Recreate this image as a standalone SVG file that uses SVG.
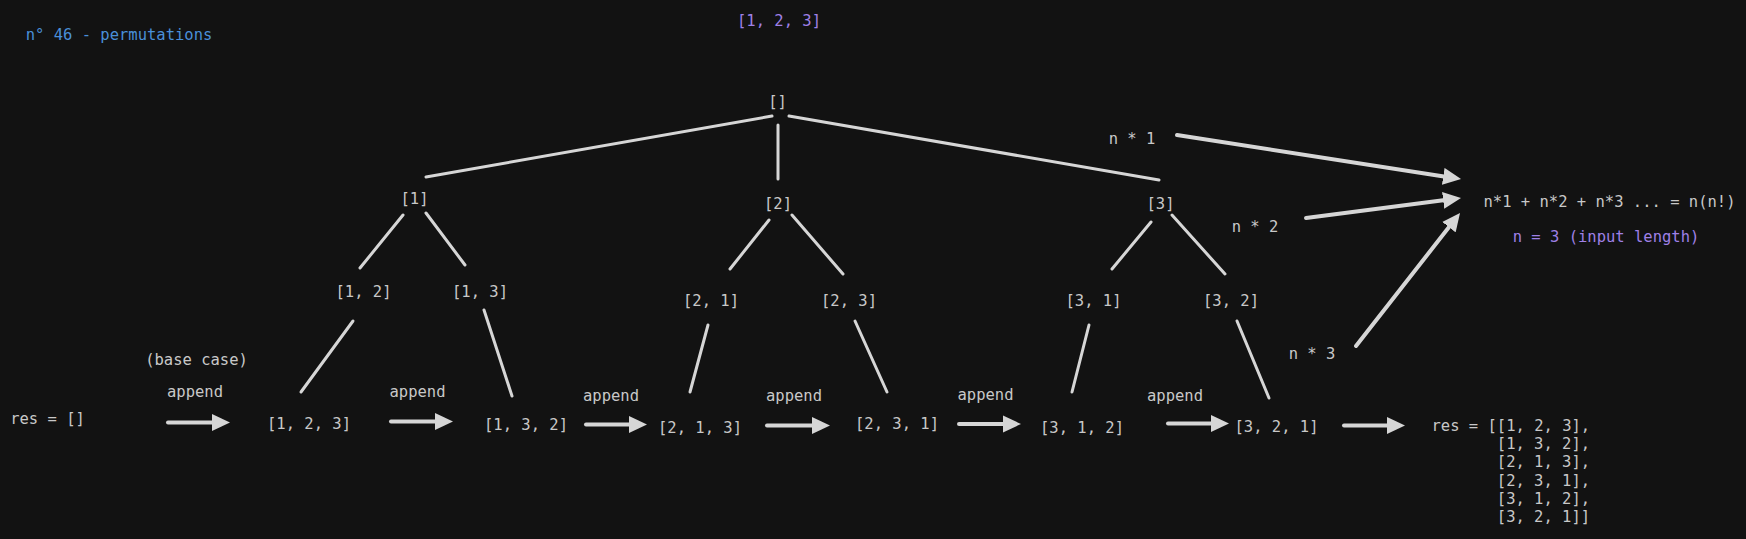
<svg xmlns="http://www.w3.org/2000/svg" width="1746" height="539" viewBox="0 0 1746 539">
<style>
text{font-family:"DejaVu Sans Mono","Liberation Mono",monospace;font-size:15.5px;fill:#c8c8c8}
.c{text-anchor:middle}
.title{fill:#4a8fd8}
.purple{fill:#9f80e6}
.edge{stroke:#d6d6d6;stroke-width:3;stroke-linecap:round;fill:none}
.arr{stroke:#d6d6d6;stroke-width:4;stroke-linecap:round;fill:none;marker-end:url(#ah)}
</style>
<defs>
<marker id="ah" markerUnits="userSpaceOnUse" markerWidth="18" markerHeight="18" refX="4" refY="9" orient="auto">
<path d="M0,0.5 L18,9 L0,17.5 Z" fill="#d6d6d6"/>
</marker>
</defs>
<rect width="1746" height="539" fill="#121212"/>
<g id="labels">
<text class="c title" x="119" y="39.5">n° 46 - permutations</text>
<text class="c purple" x="779" y="25.5">[1, 2, 3]</text>
<text class="c" x="1132" y="143.5">n * 1</text>
<text class="c" x="1255" y="231.5">n * 2</text>
<text class="c" x="1312" y="358.5">n * 3</text>
<text class="c" x="196.5" y="364.5">(base case)</text>
<text class="c" x="195" y="396.5">append</text>
<text class="c" x="417.5" y="396.5">append</text>
<text class="c" x="611" y="400.5">append</text>
<text class="c" x="794" y="400.5">append</text>
<text class="c" x="985.5" y="399.5">append</text>
<text class="c" x="1175" y="400.5">append</text>
</g>
<g id="connectors">
<line class="edge" x1="426" y1="177" x2="772" y2="116"/>
<line class="edge" x1="778" y1="125" x2="778" y2="179"/>
<line class="edge" x1="789" y1="116" x2="1159" y2="180"/>
<line class="edge" x1="403" y1="215" x2="360" y2="268"/>
<line class="edge" x1="426" y1="213" x2="465" y2="265"/>
<line class="edge" x1="769" y1="220" x2="730" y2="269"/>
<line class="edge" x1="792" y1="215" x2="843" y2="274"/>
<line class="edge" x1="1151" y1="222" x2="1112" y2="269"/>
<line class="edge" x1="1172" y1="215" x2="1225" y2="274"/>
<line class="edge" x1="353" y1="321" x2="301" y2="392"/>
<line class="edge" x1="484" y1="310" x2="512" y2="396"/>
<line class="edge" x1="708" y1="325" x2="690" y2="392"/>
<line class="edge" x1="855" y1="321" x2="887" y2="392"/>
<line class="edge" x1="1089" y1="325" x2="1072" y2="392"/>
<line class="edge" x1="1237" y1="321" x2="1269" y2="398"/>
<line class="arr" x1="1177" y1="135" x2="1447.2" y2="176.9"/>
<line class="arr" x1="1306" y1="218" x2="1447.1" y2="199.8"/>
<line class="arr" x1="1356" y1="346" x2="1451.4" y2="224"/>
<line class="arr" x1="168" y1="422.5" x2="216" y2="422.5"/>
<line class="arr" x1="391" y1="421.5" x2="439" y2="421.5"/>
<line class="arr" x1="586" y1="424.5" x2="633" y2="424.5"/>
<line class="arr" x1="767" y1="425.5" x2="816" y2="425.5"/>
<line class="arr" x1="959" y1="424" x2="1007" y2="424"/>
<line class="arr" x1="1168" y1="423.5" x2="1215" y2="423.5"/>
<line class="arr" x1="1344" y1="425.5" x2="1391" y2="425.5"/>
</g>
<g id="n-root"><text class="c" x="777.5" y="106.5">[]</text></g>
<g id="n-1"><text class="c" x="414.5" y="204">[1]</text></g>
<g id="n-2"><text class="c" x="778" y="208.5">[2]</text></g>
<g id="n-3"><text class="c" x="1160.5" y="208.5">[3]</text></g>
<g id="n-12"><text class="c" x="363.5" y="296.5">[1, 2]</text></g>
<g id="n-13"><text class="c" x="480" y="296.5">[1, 3]</text></g>
<g id="n-21"><text class="c" x="711" y="305.5">[2, 1]</text></g>
<g id="n-23"><text class="c" x="849" y="305.5">[2, 3]</text></g>
<g id="n-31"><text class="c" x="1093.5" y="305.5">[3, 1]</text></g>
<g id="n-32"><text class="c" x="1231" y="305.5">[3, 2]</text></g>
<g id="res-empty"><text class="c" x="47.5" y="424">res = []</text></g>
<g id="p-123"><text class="c" x="309" y="428.5">[1, 2, 3]</text></g>
<g id="p-132"><text class="c" x="526" y="429.5">[1, 3, 2]</text></g>
<g id="p-213"><text class="c" x="700" y="432.5">[2, 1, 3]</text></g>
<g id="p-231"><text class="c" x="897" y="428.5">[2, 3, 1]</text></g>
<g id="p-312"><text class="c" x="1082" y="432.5">[3, 1, 2]</text></g>
<g id="p-321"><text class="c" x="1276.5" y="431.5">[3, 2, 1]</text></g>
<g id="formula">
<text class="c" x="1609.5" y="207">n*1 + n*2 + n*3 ... = n(n!)</text>
<text class="c purple" x="1606" y="241.5">n = 3 (input length)</text>
</g>
<g id="res-final">
<text x="1431.5" y="431">res = [[1, 2, 3],</text>
<text x="1496.8" y="449.2">[1, 3, 2],</text>
<text x="1496.8" y="467.4">[2, 1, 3],</text>
<text x="1496.8" y="485.6">[2, 3, 1],</text>
<text x="1496.8" y="503.8">[3, 1, 2],</text>
<text x="1496.8" y="522">[3, 2, 1]]</text>
</g>
</svg>
